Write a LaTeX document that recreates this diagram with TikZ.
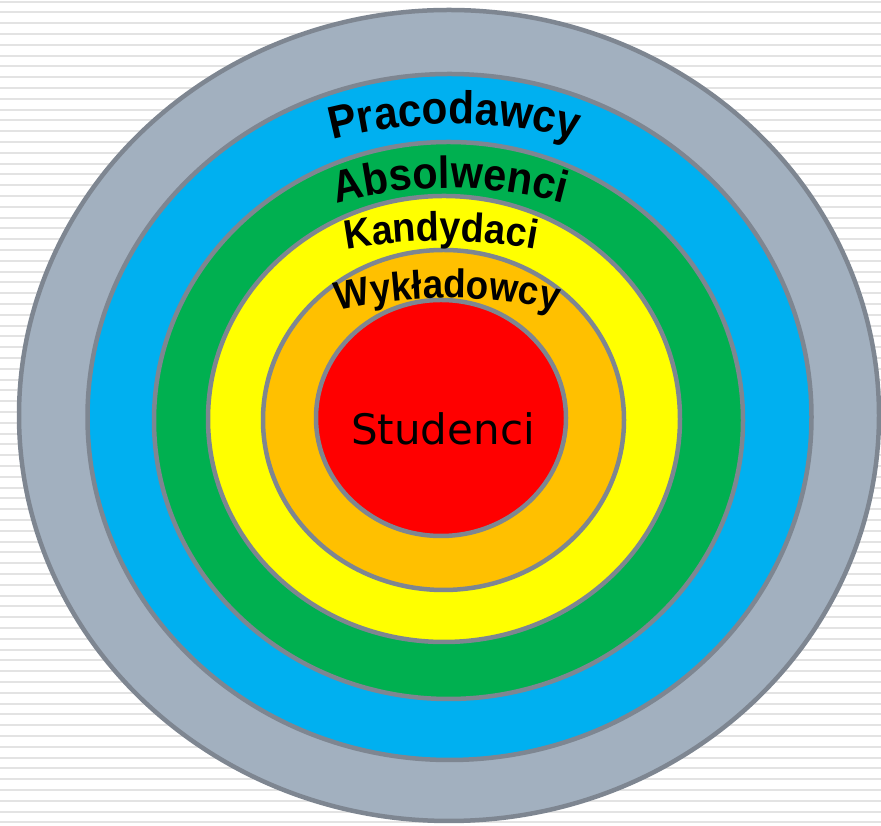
\documentclass[tikz,border=0pt]{standalone}
\usepackage{fontspec}
\usetikzlibrary{decorations.text}
\newfontfamily\arcfont[FakeStretch=0.92]{Liberation Sans}
\newfontfamily\corefont{DejaVu Sans}
\definecolor{ringline}{RGB}{126,134,145}
\definecolor{ringgray}{RGB}{162,176,191}
\definecolor{ringblue}{RGB}{0,176,240}
\definecolor{ringgreen}{RGB}{0,176,80}
\definecolor{ringyellow}{RGB}{255,255,0}
\definecolor{ringorange}{RGB}{255,192,0}
\definecolor{ringred}{RGB}{255,0,0}
\begin{document}
\begin{tikzpicture}[x=1pt,y=1pt,
    ring/.style={draw=ringline,line width=4.5pt},
    stripe/.style={draw=gray!22,line width=2pt},
    arclabel/.style 2 args={decorate,decoration={text along path,text align=center,
      text={|\arcfont\bfseries\fontsize{#1}{#1}\selectfont|#2}}}]
  \useasboundingbox (0,0) rectangle (881,826);
  % lined background
  \foreach \k in {0,...,76}
    \draw[stripe] (0,824.3-10.8*\k) -- (881,824.3-10.8*\k);
  % rings, outside in
  \draw[ring,fill=ringgray] (449,410.5) ellipse [x radius=430pt,y radius=405.5pt];
  \draw[ring,fill=ringblue] (449.5,409) ellipse [x radius=362pt,y radius=343pt];
  \draw[ring,fill=ringgreen] (448.5,405.5) ellipse [x radius=294.5pt,y radius=278.5pt];
  \draw[ring,fill=ringyellow] (444,407) ellipse [x radius=236pt,y radius=223pt];
  \draw[ring,fill=ringorange] (443.5,406) ellipse [x radius=180.5pt,y radius=170pt];
  \draw[ring,fill=ringred] (441,408) ellipse [x radius=125pt,y radius=118pt];
  \node[font=\corefont\fontsize{42}{42}\selectfont] (core) at (443,397) {Studenci};
  % curved labels
  \path[arclabel={46}{Pracodawcy}] ([shift={(120:480pt)}]454.5,222) arc[start angle=120,end angle=60,radius=480pt];
  \path[arclabel={45}{Absolwenci}] ([shift={(120:430pt)}]450,208) arc[start angle=120,end angle=60,radius=430pt];
  \path[arclabel={41}{Kandydaci}] ([shift={(115:520pt)}]441,65) arc[start angle=115,end angle=65,radius=520pt];
  \path[arclabel={40}{Wykładowcy}] ([shift={(120:480pt)}]447.5,48) arc[start angle=120,end angle=60,radius=480pt];
\end{tikzpicture}
\end{document}
